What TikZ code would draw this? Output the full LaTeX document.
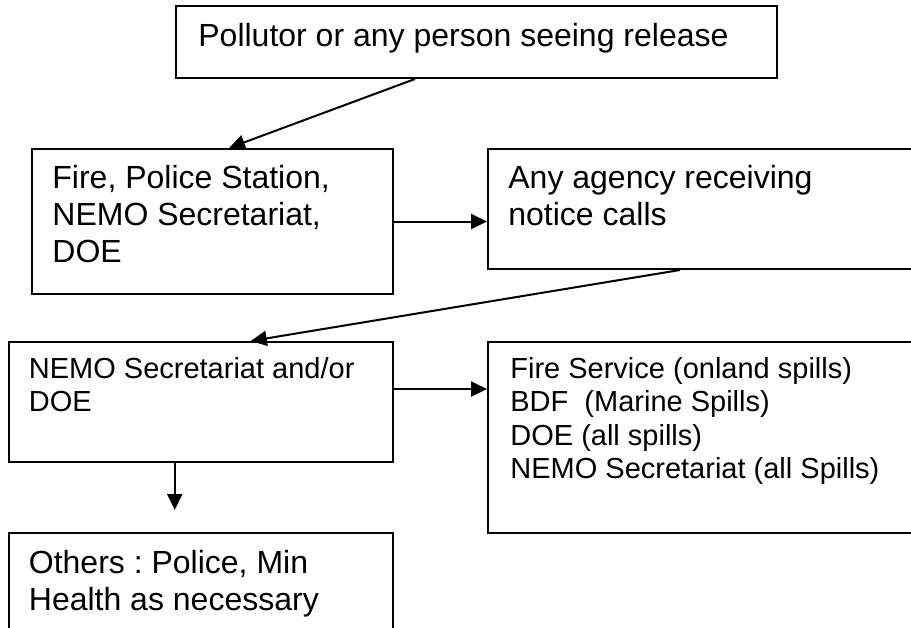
\documentclass[tikz,border=0pt]{standalone}
\usepackage{fontspec}
\setmainfont{Liberation Sans}
\usetikzlibrary{positioning, arrows.meta, calc}
\frenchspacing
\tikzset{
  box/.style      ={rectangle, draw=black, line width=1pt, inner sep=0pt, anchor=north west},
  boxtext/.style  ={anchor=north west, inner sep=0pt, align=left, font=\fontsize{16}{18.4}\selectfont},
  smalltext/.style={boxtext, font=\fontsize{14.5}{16.7}\selectfont},
  arr/.style      ={-{Triangle[length=8pt, width=7.5pt]}, line width=1pt},
}
\begin{document}
\begin{tikzpicture}[x=0.5pt, y=-0.5pt]
\clip (0,0) rectangle (911,627);
% boxes
\node[box, minimum width=300.5pt, minimum height=36pt]   (b1) at (175,5)   {};
\node[box, minimum width=180.5pt, minimum height=72.5pt] (b2) at (31,148)  {};
\node[box, minimum width=225pt,   minimum height=60pt]   (b3) at (487,148) {};
\node[box, minimum width=192.25pt, minimum height=60pt]  (b4) at (7.5,341) {};
\node[box, minimum width=225pt,   minimum height=95.5pt] (b5) at (487,341) {};
\node[box, minimum width=192.25pt, minimum height=65pt]  (b6) at (7.5,532) {};
% texts
\node[boxtext]   (t1) at ($(b1.north west)+(23,18)$) {Pollutor or any person seeing release};
\node[boxtext]   (t2) at ($(b2.north west)+(21,17)$) {Fire, Police Station,\\NEMO Secretariat,\\DOE};
\node[boxtext]   (t3) at ($(b3.north west)+(21,17)$) {Any agency receiving\\notice calls};
\node[smalltext] (t4) at ($(b4.north west)+(21,16)$) {NEMO Secretariat and/or\\DOE};
\node[smalltext] (t5) at ($(b5.north west)+(23,16)$) {Fire Service (onland spills)\\BDF\ \ (Marine Spills)\\DOE (all spills)\\NEMO Secretariat (all Spills)};
\node[boxtext]   (t6) at ($(b6.north west)+(21,18)$) {Others : Police, Min\\Health as necessary};
% connectors
\coordinate (a4) at ($(b4.east)+(0,-13)$);
\coordinate (a5) at ($(b4.south)+(-26,47)$);
\draw[arr] ($(b1.south)+(-61.5,0)$) -- ($(b2.north)+(16.5,0)$);
\draw[arr] (b2.east) -- (b2.east -| b3.west);
\draw[arr] ($(b3.south west)+(193,0)$) -- ($(b4.north)+(50,0)$);
\draw[arr] (a4) -- (a4 -| b5.west);
\draw[arr] ($(b4.south)+(-26,0)$) -- (a5);
\end{tikzpicture}
\end{document}
